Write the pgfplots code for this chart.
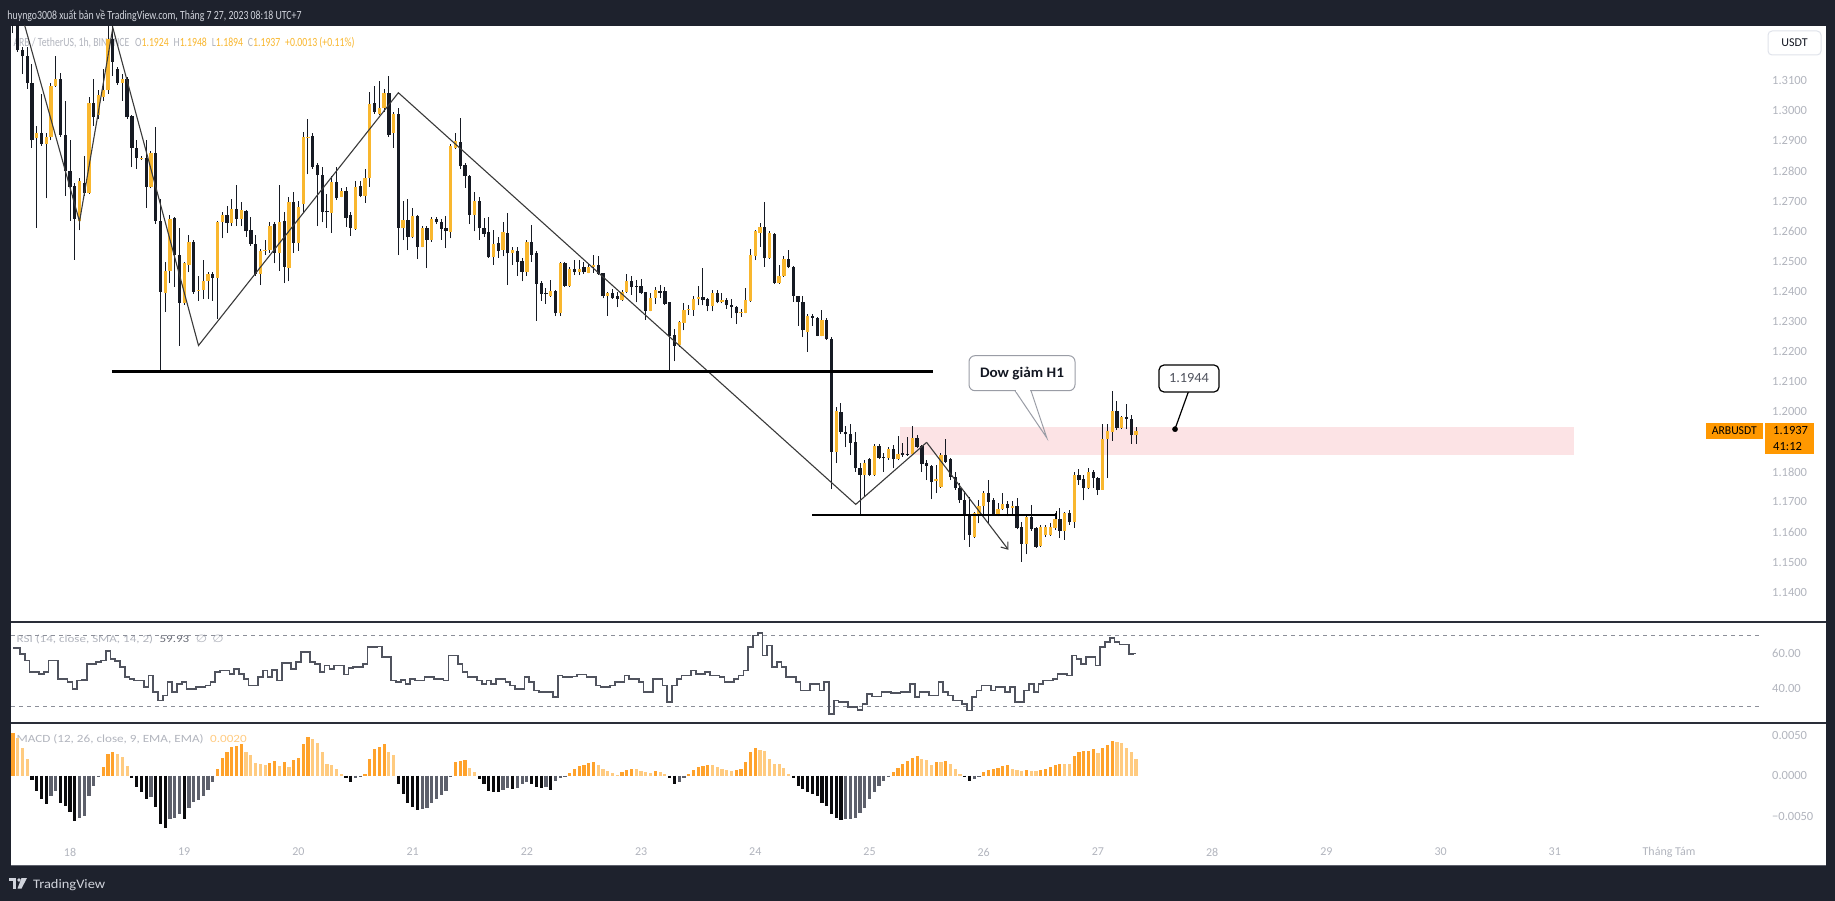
\documentclass[border=0pt]{standalone}
\usepackage{graphicx}
\usepackage{fontspec}
\usepackage{pgfplots}
\pgfplotsset{compat=1.18}
\usepackage{pgfplotstable}
\usetikzlibrary{arrows.meta}
\setmainfont{Carlito}
\newfontfamily\symfont{DejaVu Sans}
\newcommand{\fw}[2]{\resizebox{#1pt}{\height}{#2}}

\definecolor{tvdark}{HTML}{1E222D}
\definecolor{hdrtxt}{HTML}{D1D4DC}
\definecolor{lblgray}{HTML}{B2B5BE}
\definecolor{upc}{HTML}{F9B72E}
\definecolor{dnc}{HTML}{161A23}
\definecolor{trend}{HTML}{3A3A3A}
\definecolor{pinkz}{HTML}{FCE3E5}
\definecolor{rsic}{HTML}{50535E}
\definecolor{dashc}{HTML}{8C8F99}
\definecolor{m1}{HTML}{FFA22B}
\definecolor{m2}{HTML}{FFCB80}
\definecolor{m3}{HTML}{0A0A0C}
\definecolor{m4}{HTML}{5D606B}
\definecolor{tvorange}{HTML}{FF9800}
\definecolor{sepc}{HTML}{2A2E39}
\definecolor{callgray}{HTML}{9A9DA6}
\definecolor{boxgray}{HTML}{E0E3EB}
\definecolor{rsival}{HTML}{6A6D78}
\definecolor{txtdark}{HTML}{131722}

\pgfplotstableread{
i o h l c
-12 1.3330 1.3350 1.3258 1.3300
-11 1.3290 1.3320 1.3195 1.3201
-10 1.3201 1.3211 1.3122 1.3181
-9 1.3181 1.3211 1.3074 1.3092
-8 1.3094 1.3157 1.2878 1.2902
-7 1.2908 1.2950 1.2611 1.2926
-6 1.2926 1.3056 1.2884 1.2890
-5 1.2890 1.2926 1.2709 1.2912
-4 1.2912 1.3092 1.2902 1.3084
-3 1.3084 1.3181 1.3080 1.3106
-2 1.3106 1.3124 1.2914 1.2920
-1 1.2920 1.3033 1.2718 1.2801
0 1.2801 1.2902 1.2635 1.2748
1 1.2750 1.2760 1.2505 1.2641
2 1.2635 1.2778 1.2603 1.2768
3 1.2760 1.2849 1.2718 1.2727
4 1.2728 1.3045 1.2724 1.3027
5 1.3027 1.3104 1.2950 1.2979
6 1.2985 1.3068 1.2973 1.3051
7 1.3045 1.3140 1.3033 1.3068
8 1.3068 1.3282 1.3056 1.3240
9 1.3240 1.3290 1.3116 1.3163
10 1.3140 1.3146 1.3086 1.3092
11 1.3094 1.3122 1.3033 1.3104
12 1.3107 1.3113 1.2973 1.2979
13 1.2983 1.2985 1.2813 1.2878
14 1.2876 1.2902 1.2807 1.2843
15 1.2839 1.2849 1.2837 1.2843
16 1.2843 1.2902 1.2677 1.2748
17 1.2748 1.2867 1.2742 1.2861
18 1.2861 1.2946 1.2623 1.2635
19 1.2635 1.2706 1.2133 1.2398
20 1.2395 1.2499 1.2332 1.2467
21 1.2467 1.2653 1.2427 1.2641
22 1.2643 1.2647 1.2415 1.2522
23 1.2522 1.2611 1.2220 1.2362
24 1.2362 1.2499 1.2356 1.2493
25 1.2487 1.2588 1.2463 1.2564
26 1.2564 1.2570 1.2392 1.2398
27 1.2402 1.2451 1.2368 1.2406
28 1.2406 1.2505 1.2374 1.2436
29 1.2436 1.2463 1.2374 1.2459
30 1.2459 1.2463 1.2368 1.2445
31 1.2445 1.2635 1.2309 1.2632
32 1.2632 1.2665 1.2576 1.2653
33 1.2653 1.2683 1.2594 1.2627
34 1.2627 1.2706 1.2617 1.2673
35 1.2673 1.2754 1.2617 1.2641
36 1.2641 1.2697 1.2617 1.2671
37 1.2667 1.2671 1.2582 1.2599
38 1.2603 1.2647 1.2552 1.2558
39 1.2558 1.2588 1.2451 1.2457
40 1.2457 1.2540 1.2421 1.2534
41 1.2534 1.2572 1.2522 1.2537
42 1.2537 1.2629 1.2528 1.2617
43 1.2623 1.2632 1.2493 1.2528
44 1.2526 1.2754 1.2469 1.2632
45 1.2635 1.2665 1.2427 1.2481
46 1.2478 1.2712 1.2433 1.2697
47 1.2697 1.2730 1.2528 1.2560
48 1.2560 1.2700 1.2535 1.2680
49 1.2690 1.2928 1.2665 1.2914
50 1.2910 1.2973 1.2789 1.2914
51 1.2916 1.2926 1.2807 1.2813
52 1.2819 1.2825 1.2617 1.2786
53 1.2786 1.2813 1.2629 1.2665
54 1.2667 1.2724 1.2611 1.2662
55 1.2661 1.2783 1.2594 1.2763
56 1.2763 1.2813 1.2704 1.2709
57 1.2715 1.2742 1.2712 1.2734
58 1.2734 1.2748 1.2614 1.2645
59 1.2653 1.2665 1.2585 1.2611
60 1.2608 1.2766 1.2605 1.2748
61 1.2750 1.2766 1.2712 1.2718
62 1.2718 1.2807 1.2694 1.2778
63 1.2778 1.3062 1.2748 1.3024
64 1.3027 1.3083 1.2991 1.2997
65 1.2991 1.3098 1.2985 1.3009
66 1.3009 1.3074 1.2997 1.3059
67 1.3059 1.3116 1.2914 1.2920
68 1.2926 1.2997 1.2878 1.2988
69 1.2988 1.3009 1.2520 1.2611
70 1.2609 1.2700 1.2570 1.2637
71 1.2637 1.2706 1.2537 1.2582
72 1.2582 1.2677 1.2576 1.2651
73 1.2651 1.2653 1.2507 1.2549
74 1.2549 1.2617 1.2546 1.2611
75 1.2611 1.2617 1.2477 1.2572
76 1.2570 1.2647 1.2564 1.2641
77 1.2641 1.2647 1.2623 1.2629
78 1.2632 1.2641 1.2572 1.2608
79 1.2611 1.2651 1.2544 1.2599
80 1.2597 1.2890 1.2576 1.2884
81 1.2878 1.2926 1.2872 1.2899
82 1.2896 1.2976 1.2807 1.2816
83 1.2819 1.2825 1.2744 1.2783
84 1.2783 1.2786 1.2623 1.2655
85 1.2655 1.2730 1.2599 1.2700
86 1.2700 1.2715 1.2572 1.2611
87 1.2611 1.2643 1.2582 1.2591
88 1.2597 1.2647 1.2511 1.2513
89 1.2513 1.2605 1.2489 1.2558
90 1.2560 1.2582 1.2511 1.2534
91 1.2538 1.2629 1.2516 1.2596
92 1.2594 1.2661 1.2422 1.2526
93 1.2526 1.2546 1.2489 1.2537
94 1.2534 1.2546 1.2451 1.2499
95 1.2501 1.2511 1.2433 1.2465
96 1.2465 1.2570 1.2451 1.2564
97 1.2564 1.2620 1.2499 1.2522
98 1.2526 1.2534 1.2303 1.2425
99 1.2427 1.2433 1.2368 1.2392
100 1.2396 1.2410 1.2359 1.2392
101 1.2386 1.2437 1.2382 1.2401
102 1.2401 1.2406 1.2318 1.2327
103 1.2327 1.2499 1.2318 1.2493
104 1.2493 1.2499 1.2415 1.2419
105 1.2419 1.2481 1.2415 1.2475
106 1.2475 1.2505 1.2454 1.2465
107 1.2465 1.2505 1.2454 1.2473
108 1.2480 1.2499 1.2457 1.2463
109 1.2462 1.2490 1.2460 1.2482
110 1.2480 1.2521 1.2462 1.2488
111 1.2488 1.2518 1.2455 1.2458
112 1.2460 1.2462 1.2377 1.2383
113 1.2383 1.2399 1.2319 1.2396
114 1.2396 1.2407 1.2375 1.2377
115 1.2383 1.2399 1.2347 1.2374
116 1.2371 1.2405 1.2369 1.2399
117 1.2399 1.2458 1.2396 1.2435
118 1.2435 1.2451 1.2388 1.2416
119 1.2417 1.2438 1.2363 1.2415
120 1.2418 1.2440 1.2391 1.2396
121 1.2398 1.2398 1.2305 1.2335
122 1.2335 1.2394 1.2333 1.2378
123 1.2378 1.2416 1.2358 1.2405
124 1.2401 1.2421 1.2377 1.2396
125 1.2401 1.2416 1.2355 1.2358
126 1.2365 1.2366 1.2139 1.2252
127 1.2255 1.2275 1.2167 1.2220
128 1.2222 1.2303 1.2216 1.2299
129 1.2296 1.2360 1.2270 1.2338
130 1.2337 1.2355 1.2322 1.2339
131 1.2338 1.2386 1.2319 1.2375
132 1.2375 1.2418 1.2353 1.2380
133 1.2380 1.2479 1.2353 1.2371
134 1.2374 1.2377 1.2333 1.2352
135 1.2352 1.2405 1.2333 1.2394
136 1.2396 1.2405 1.2360 1.2363
137 1.2363 1.2396 1.2360 1.2371
138 1.2371 1.2377 1.2342 1.2353
139 1.2355 1.2375 1.2311 1.2349
140 1.2349 1.2352 1.2291 1.2327
141 1.2327 1.2342 1.2316 1.2330
142 1.2329 1.2410 1.2327 1.2371
143 1.2368 1.2541 1.2366 1.2521
144 1.2519 1.2604 1.2504 1.2599
145 1.2595 1.2626 1.2549 1.2613
146 1.2613 1.2698 1.2482 1.2510
147 1.2510 1.2599 1.2507 1.2593
148 1.2591 1.2593 1.2424 1.2429
149 1.2427 1.2488 1.2425 1.2452
150 1.2452 1.2518 1.2449 1.2508
151 1.2508 1.2538 1.2477 1.2480
152 1.2482 1.2485 1.2366 1.2386
153 1.2386 1.2386 1.2286 1.2364
154 1.2364 1.2383 1.2248 1.2270
155 1.2266 1.2325 1.2200 1.2319
156 1.2316 1.2325 1.2286 1.2313
157 1.2312 1.2316 1.2250 1.2253
158 1.2253 1.2338 1.2250 1.2305
159 1.2305 1.2311 1.2239 1.2241
160 1.2242 1.2247 1.1742 1.1867
161 1.1867 1.2014 1.1829 1.2003
162 1.1998 1.2028 1.1926 1.1934
163 1.1932 1.1951 1.1882 1.1925
164 1.1926 1.1958 1.1856 1.1897
165 1.1898 1.1934 1.1801 1.1812
166 1.1812 1.1829 1.1655 1.1790
167 1.1788 1.1840 1.1718 1.1829
168 1.1842 1.1845 1.1787 1.1790
169 1.1790 1.1892 1.1787 1.1887
170 1.1887 1.1893 1.1842 1.1845
171 1.1850 1.1862 1.1801 1.1846
172 1.1845 1.1882 1.1840 1.1876
173 1.1876 1.1890 1.1812 1.1842
174 1.1842 1.1920 1.1838 1.1860
175 1.1862 1.1895 1.1851 1.1856
176 1.1860 1.1917 1.1853 1.1856
177 1.1860 1.1951 1.1856 1.1912
178 1.1912 1.1921 1.1879 1.1884
179 1.1886 1.1890 1.1801 1.1826
180 1.1829 1.1840 1.1773 1.1820
181 1.1820 1.1823 1.1709 1.1768
182 1.1771 1.1823 1.1729 1.1775
183 1.1749 1.1862 1.1748 1.1856
184 1.1856 1.1908 1.1829 1.1834
185 1.1843 1.1845 1.1773 1.1784
186 1.1784 1.1801 1.1740 1.1746
187 1.1748 1.1762 1.1698 1.1705
188 1.1707 1.1738 1.1574 1.1657
189 1.1660 1.1718 1.1552 1.1591
190 1.1585 1.1668 1.1580 1.1663
191 1.1660 1.1707 1.1629 1.1687
192 1.1685 1.1735 1.1657 1.1729
193 1.1731 1.1773 1.1629 1.1701
194 1.1707 1.1712 1.1654 1.1657
195 1.1657 1.1698 1.1652 1.1676
196 1.1676 1.1729 1.1673 1.1694
197 1.1694 1.1702 1.1652 1.1679
198 1.1679 1.1702 1.1657 1.1687
199 1.1687 1.1712 1.1609 1.1613
200 1.1616 1.1632 1.1502 1.1561
201 1.1561 1.1657 1.1526 1.1649
202 1.1649 1.1690 1.1604 1.1609
203 1.1613 1.1618 1.1548 1.1552
204 1.1554 1.1624 1.1552 1.1618
205 1.1590 1.1624 1.1585 1.1618
206 1.1590 1.1629 1.1587 1.1618
207 1.1613 1.1663 1.1607 1.1643
208 1.1643 1.1679 1.1580 1.1605
209 1.1605 1.1668 1.1574 1.1663
210 1.1663 1.1674 1.1624 1.1632
211 1.1632 1.1801 1.1615 1.1790
212 1.1790 1.1809 1.1757 1.1773
213 1.1775 1.1790 1.1705 1.1746
214 1.1746 1.1812 1.1742 1.1801
215 1.1801 1.1807 1.1746 1.1779
216 1.1779 1.1784 1.1723 1.1740
217 1.1740 1.1958 1.1740 1.1908
218 1.1908 1.1958 1.1779 1.1936
219 1.1934 1.2070 1.1904 1.2003
220 1.2003 1.2034 1.1939 1.1947
221 1.1947 1.1986 1.1942 1.1982
222 1.1984 1.2026 1.1942 1.1975
223 1.1975 1.1989 1.1893 1.1921
224 1.1924 1.1948 1.1894 1.1937
}\candles

\pgfplotstableread{
i v
-12 63.1
-11 63.1
-10 59.7
-9 55.9
-8 49.3
-7 49.3
-6 48.4
-5 49.3
-4 55.9
-3 55.9
-2 45.6
-1 45.6
0 43.7
1 40.0
2 44.6
3 45.0
4 54.0
5 54.0
6 55.0
7 55.9
8 61.2
9 56.9
10 55.5
11 52.2
12 46.5
13 45.6
14 44.6
15 44.6
16 40.9
17 47.5
18 38.1
19 33.4
20 36.2
21 43.7
22 38.1
23 42.8
24 43.7
25 40.0
26 40.0
27 40.9
28 40.9
29 41.8
30 43.7
31 49.3
32 50.3
33 50.3
34 48.4
35 51.2
36 48.4
37 45.6
38 41.8
39 41.8
40 46.5
41 50.3
42 46.5
43 50.7
44 44.6
45 54.4
46 54.4
47 51.2
48 55.0
49 60.6
50 60.6
51 55.0
52 54.0
53 49.3
54 53.1
55 51.2
56 53.1
57 53.1
58 48.0
59 51.6
60 52.2
61 52.2
62 54.0
63 63.4
64 63.4
65 63.8
66 57.8
67 57.8
68 44.6
69 43.7
70 45.0
71 42.8
72 45.6
73 44.6
74 44.6
75 46.5
76 46.5
77 45.6
78 45.6
79 44.6
80 58.7
81 58.7
82 54.0
83 49.3
84 46.5
85 46.5
86 44.6
87 42.8
88 44.6
89 42.8
90 45.6
91 45.6
92 43.7
93 41.8
94 40.0
95 40.0
96 46.5
97 43.7
98 39.0
99 38.1
100 38.1
101 38.1
102 35.3
103 47.5
104 46.5
105 46.5
106 46.9
107 48.0
108 48.0
109 46.5
110 46.5
111 41.8
112 40.9
113 40.9
114 41.8
115 43.7
116 43.7
117 47.5
118 45.6
119 45.6
120 43.7
121 38.1
122 38.1
123 45.6
124 45.6
125 41.8
126 32.4
127 41.8
128 45.6
129 47.5
130 47.5
131 50.3
132 48.4
133 48.4
134 49.3
135 47.5
136 47.5
137 46.5
138 43.7
139 43.7
140 45.6
141 47.5
142 50.3
143 63.4
144 70.0
145 71.5
146 58.7
147 64.4
148 52.2
149 55.0
150 52.2
151 46.5
152 46.5
153 43.7
154 39.0
155 39.0
156 42.8
157 42.8
158 39.0
159 43.7
160 25.9
161 33.4
162 32.4
163 32.4
164 29.6
165 29.6
166 28.1
167 31.5
168 37.1
169 35.6
170 35.6
171 38.1
172 38.1
173 37.5
174 37.5
175 38.1
176 38.1
177 42.8
178 35.3
179 38.1
180 38.1
181 36.2
182 36.2
183 43.7
184 38.1
185 36.2
186 33.4
187 33.4
188 31.5
189 27.7
190 35.3
191 39.0
192 41.8
193 41.8
194 39.0
195 40.9
196 40.9
197 38.1
198 40.9
199 32.4
200 32.4
201 39.0
202 42.8
203 38.1
204 42.8
205 44.6
206 44.6
207 45.6
208 48.4
209 48.4
210 47.5
211 58.7
212 56.9
213 54.0
214 57.8
215 57.8
216 53.1
217 63.4
218 66.2
219 68.7
220 66.2
221 64.9
222 64.9
223 59.7
224 59.93
}\rsi

\pgfplotstableread{
i m k
-12 0.00521 1
-11 0.00459 2
-10 0.00334 2
-9 0.00200 2
-8 -0.00050 3
-7 -0.00188 3
-6 -0.00292 3
-5 -0.00354 3
-4 -0.00250 4
-3 -0.00188 4
-2 -0.00334 3
-1 -0.00375 3
0 -0.00450 3
1 -0.00563 3
2 -0.00521 4
3 -0.00500 4
4 -0.00259 4
5 -0.00125 4
6 -0.00008 4
7 0.00104 1
8 0.00271 1
9 0.00292 1
10 0.00271 2
11 0.00229 2
12 0.00117 2
13 -0.00025 3
14 -0.00146 3
15 -0.00209 3
16 -0.00292 3
17 -0.00271 4
18 -0.00384 3
19 -0.00596 3
20 -0.00646 3
21 -0.00542 4
22 -0.00521 4
23 -0.00479 4
24 -0.00542 3
25 -0.00396 4
26 -0.00325 4
27 -0.00300 4
28 -0.00250 4
29 -0.00179 4
30 -0.00083 4
31 0.00083 1
32 0.00217 1
33 0.00292 1
34 0.00354 1
35 0.00363 1
36 0.00384 1
37 0.00292 2
38 0.00259 2
39 0.00154 2
40 0.00146 2
41 0.00133 2
42 0.00158 1
43 0.00175 1
44 0.00117 2
45 0.00167 1
46 0.00104 2
47 0.00188 1
48 0.00217 1
49 0.00384 1
50 0.00479 1
51 0.00450 2
52 0.00396 2
53 0.00292 2
54 0.00146 2
55 0.00125 2
56 0.00083 2
57 0.00021 2
58 -0.00033 3
59 -0.00083 3
60 -0.00033 4
61 -0.00008 4
62 0.00021 1
63 0.00209 1
64 0.00325 1
65 0.00354 1
66 0.00384 1
67 0.00292 2
68 0.00259 2
69 -0.00104 3
70 -0.00229 3
71 -0.00334 3
72 -0.00384 3
73 -0.00425 3
74 -0.00409 4
75 -0.00396 4
76 -0.00334 4
77 -0.00284 4
78 -0.00242 4
79 -0.00188 4
80 -0.00008 4
81 0.00167 1
82 0.00175 1
83 0.00188 1
84 0.00092 2
85 0.00042 2
86 -0.00042 3
87 -0.00104 3
88 -0.00188 3
89 -0.00200 3
90 -0.00209 3
91 -0.00175 4
92 -0.00158 4
93 -0.00167 3
94 -0.00158 4
95 -0.00104 4
96 -0.00083 4
97 -0.00104 3
98 -0.00146 3
99 -0.00158 3
100 -0.00146 4
101 -0.00175 3
102 -0.00063 4
103 -0.00033 4
104 -0.00004 4
105 0.00033 1
106 0.00083 1
107 0.00117 1
108 0.00133 1
109 0.00158 1
110 0.00167 1
111 0.00125 2
112 0.00075 2
113 0.00050 2
114 0.00033 2
115 0.00008 2
116 0.00042 1
117 0.00063 1
118 0.00083 1
119 0.00080 2
120 0.00050 2
121 0.00042 2
122 0.00033 2
123 0.00050 1
124 0.00042 2
125 0.00021 2
126 -0.00033 3
127 -0.00104 3
128 -0.00083 4
129 -0.00033 4
130 0.00021 1
131 0.00063 1
132 0.00104 1
133 0.00117 1
134 0.00133 1
135 0.00125 2
136 0.00104 2
137 0.00083 2
138 0.00063 2
139 0.00050 2
140 0.00063 1
141 0.00075 1
142 0.00167 1
143 0.00292 1
144 0.00342 1
145 0.00313 2
146 0.00300 2
147 0.00200 2
148 0.00146 2
149 0.00146 2
150 0.00092 2
151 0.00021 2
152 -0.00033 3
153 -0.00125 3
154 -0.00167 3
155 -0.00200 3
156 -0.00229 3
157 -0.00259 3
158 -0.00334 3
159 -0.00375 3
160 -0.00479 3
161 -0.00521 3
162 -0.00550 3
163 -0.00534 4
164 -0.00534 4
165 -0.00521 4
166 -0.00459 4
167 -0.00396 4
168 -0.00292 4
169 -0.00209 4
170 -0.00125 4
171 -0.00063 4
172 -0.00021 4
173 0.00042 1
174 0.00092 1
175 0.00146 1
176 0.00175 1
177 0.00217 1
178 0.00242 1
179 0.00209 2
180 0.00188 2
181 0.00133 2
182 0.00167 1
183 0.00165 2
184 0.00175 1
185 0.00146 2
186 0.00083 2
187 0.00021 2
188 -0.00008 3
189 -0.00063 3
190 -0.00042 4
191 -0.00008 4
192 0.00042 1
193 0.00063 1
194 0.00075 1
195 0.00092 1
196 0.00117 1
197 0.00125 1
198 0.00083 2
199 0.00063 2
200 0.00050 2
201 0.00063 1
202 0.00060 2
203 0.00050 2
204 0.00063 1
205 0.00083 1
206 0.00104 1
207 0.00125 1
208 0.00146 1
209 0.00144 2
210 0.00140 2
211 0.00242 1
212 0.00292 1
213 0.00300 1
214 0.00304 1
215 0.00325 1
216 0.00284 2
217 0.00334 1
218 0.00375 1
219 0.00425 1
220 0.00409 2
221 0.00396 2
222 0.00342 2
223 0.00292 2
224 0.00209 2
}\macd

\pgfplotsset{tvpane/.style={scale only axis, anchor=south west, width=1752pt,
  xmin=-12.40, xmax=355.75, axis line style={draw=none}, major tick length=0pt,
  scaled x ticks=false, scaled y ticks=false,
  yticklabel pos=right,
  yticklabel style={anchor=west, xshift=9pt, inner sep=0pt, text=lblgray, font=\fontsize{12.5}{14}\selectfont},
  xticklabel style={anchor=center, yshift=13pt, inner sep=0pt, text=lblgray, font=\fontsize{12}{14}\selectfont},
  clip=true}}

\begin{document}
\begin{tikzpicture}
\begin{scope}[x=1pt,y=-1pt]
\fill[tvdark] (0,0) rectangle (1835,901);
\fill[white] (11,26) rectangle (1826,865);
\draw[sepc, line width=1.5pt] (11,622) -- (1826,622);
\draw[sepc, line width=1.5pt] (11,723) -- (1826,723);
\draw[m4, line width=1pt] (11,865) -- (1826,865);
\node[anchor=base west, inner sep=0, text=hdrtxt, font=\fontsize{12.5}{15}\selectfont] at (7.3,19.5) {\fw{294}{huyngo3008 xuất bản về TradingView.com, Tháng 7 27, 2023 08:18 UTC+7}};
\node[anchor=base west, inner sep=0, text=lblgray, font=\fontsize{12.5}{15}\selectfont] at (13.3,46.7) {\fw{341}{ARB / TetherUS, 1h, BINANCE\hspace{0.6em}O\textcolor{upc}{1.1924}\hspace{0.5em}H\textcolor{upc}{1.1948}\hspace{0.5em}L\textcolor{upc}{1.1894}\hspace{0.5em}C\textcolor{upc}{1.1937}\hspace{0.5em}\textcolor{upc}{+0.0013 (+0.11\%)}}};
\node[anchor=base west, inner sep=0, text=lblgray, font=\fontsize{10.5}{12}\selectfont] at (16.5,642) {\fw{207}{RSI (14, close, SMA, 14, 2)\hspace{0.5em}\textcolor{rsival}{59.93}\hspace{0.5em}{\symfont ∅}\hspace{0.4em}{\symfont ∅}}};
\node[anchor=base west, inner sep=0, text=lblgray, font=\fontsize{11}{13}\selectfont] at (16.5,742.5) {\fw{230}{MACD (12, 26, close, 9, EMA, EMA)\hspace{0.5em}\textcolor{m2}{0.0020}}};
\end{scope}

% ---------------- main price pane
\begin{axis}[tvpane, at={(11pt,-622pt)}, height=596pt,
  ymin=1.13011, ymax=1.32818, xtick=\empty,
  ytick={1.14,1.15,1.16,1.17,1.18,1.20,1.21,1.22,1.23,1.24,1.25,1.26,1.27,1.28,1.29,1.30,1.31},
  yticklabel={\pgfmathprintnumber[fixed,fixed zerofill,precision=4,assume math mode=true]{\tick}}]
\addplot[fill=pinkz, draw=none] coordinates {(174.4,1.1857) (316,1.1857) (316,1.1950) (174.4,1.1950)};
\addplot[quiver={u=0, v={\thisrow{h}-\thisrow{l}}}, draw=dnc, line width=1pt] table[x=i, y=l] {\candles};
\addplot[quiver={u=0, v={max(abs(\thisrow{c}-\thisrow{o}),0.0004)}}, draw=upc, line width=3.3pt,
  restrict expr to domain={\thisrow{c}-\thisrow{o}}{0:1}]
  table[x=i, y expr={min(\thisrow{o},\thisrow{c})}] {\candles};
\addplot[quiver={u=0, v={max(abs(\thisrow{c}-\thisrow{o}),0.0004)}}, draw=dnc, line width=3.3pt,
  restrict expr to domain={\thisrow{c}-\thisrow{o}}{-1:-0.00000001}]
  table[x=i, y expr={min(\thisrow{o},\thisrow{c})}] {\candles};
\addplot[trend, line width=1.1pt] coordinates {(-10.5,1.3339) (2.0,1.2632) (9.0,1.3276) (27.0,1.2220) (69.0,1.3060) (165.1,1.1692) (180.0,1.1898)};
\addplot[trend, line width=1.1pt, -{Straight Barb[length=6pt,width=9pt]}] coordinates {(180.0,1.1898) (197.2,1.1541)};
\addplot[black, line width=2.6pt] coordinates {(8.8,1.2133) (181.3,1.2133)};
\addplot[black, line width=2.6pt] coordinates {(156.0,1.1657) (207.2,1.1657)};
\addplot[black, line width=1pt] coordinates {(207.2,1.1669) (207.2,1.1645)};
\addplot[only marks, mark=*, mark size=2.6pt, black] coordinates {(232.2,1.1942)};
\end{axis}

% ---------------- RSI pane
\begin{axis}[tvpane, at={(11pt,-723pt)}, height=101pt,
  ymin=20.7, ymax=77.6, xtick=\empty, ytick={40,60},
  yticklabel={\pgfmathprintnumber[fixed,fixed zerofill,precision=2,assume math mode=true]{\tick}}]
\addplot[dashc, line width=1pt, dash pattern=on 4pt off 4pt] coordinates {(-12.4,70) (355.75,70)};
\addplot[dashc, line width=1pt, dash pattern=on 4pt off 4pt] coordinates {(-12.4,30) (355.75,30)};
\addplot[const plot mark mid, rsic, line width=1.7pt] table[x=i, y=v] {\rsi};
\end{axis}

% ---------------- MACD pane
\begin{axis}[tvpane, at={(11pt,-865pt)}, height=142pt,
  ymin=-0.011049, ymax=0.006481,
  ytick={-0.005,0,0.005}, yticklabels={−0.0050,0.0000,0.0050},
  xtick={0,24,48,72,96,120,144,168,192,216,240,264,288,312,336},
  xticklabels={18,19,20,21,22,23,24,25,26,27,28,29,30,31,Tháng Tám}]
\addplot[quiver={u=0, v={\thisrow{m}}}, draw=m1, line width=3.2pt, restrict expr to domain={\thisrow{k}}{0.5:1.5}] table[x=i, y expr=0] {\macd};
\addplot[quiver={u=0, v={\thisrow{m}}}, draw=m2, line width=3.2pt, restrict expr to domain={\thisrow{k}}{1.5:2.5}] table[x=i, y expr=0] {\macd};
\addplot[quiver={u=0, v={\thisrow{m}}}, draw=m3, line width=3.2pt, restrict expr to domain={\thisrow{k}}{2.5:3.5}] table[x=i, y expr=0] {\macd};
\addplot[quiver={u=0, v={\thisrow{m}}}, draw=m4, line width=3.2pt, restrict expr to domain={\thisrow{k}}{3.5:4.5}] table[x=i, y expr=0] {\macd};
\end{axis}

\begin{scope}[x=1pt,y=-1pt]
% Dow callout
\filldraw[fill=white, draw=callgray, line width=1pt, rounded corners=6pt] (969,355.7) rectangle (1075,390.7);
\draw[callgray, line width=1pt] (1015,390.7) -- (1046.7,437.7) -- (1031,390.7);
\draw[white, line width=1.6pt] (1015.8,390.7) -- (1030.2,390.7);
\node[inner sep=0, text=txtdark, font=\bfseries\fontsize{14.5}{16}\selectfont] at (1022,373.2) {\fw{84}{Dow giảm H1}};
% value callout
\draw[black, line width=1.2pt] (1188.3,392) -- (1175,429);
\filldraw[fill=white, draw=black, line width=1.2pt, rounded corners=5pt] (1159,365) rectangle (1219,392);
\node[inner sep=0, text=rsic, font=\fontsize{14}{16}\selectfont] at (1189,378.5) {\fw{40}{1.1944}};
% price scale badges
\fill[tvorange] (1706,423) rectangle (1762.5,439);
\node[inner sep=0, text=black, font=\fontsize{12}{14}\selectfont] at (1734.3,431) {\fw{45}{ARBUSDT}};
\fill[tvorange] (1765,423) rectangle (1814,453.5);
\node[anchor=west, inner sep=0, text=black, font=\fontsize{12.5}{14}\selectfont] at (1773,430.7) {1.1937};
\node[anchor=west, inner sep=0, text=black, font=\fontsize{12.5}{14}\selectfont] at (1773,446) {41:12};
\filldraw[fill=white, draw=boxgray, line width=1pt, rounded corners=4pt] (1768,31) rectangle (1821,55);
\node[inner sep=0, text=txtdark, font=\fontsize{12}{14}\selectfont] at (1794.5,43) {USDT};
% footer logo
\fill[hdrtxt] (9,878) rectangle (16,881);
\fill[hdrtxt] (12.5,878) rectangle (16,888.5);
\fill[hdrtxt] (19,880) circle (1.8);
\fill[hdrtxt] (21.5,878) -- (27,878) -- (21.5,888.5) -- (17.5,888.5) -- cycle;
\node[anchor=base west, inner sep=0, text=hdrtxt, font=\fontsize{13}{15}\selectfont] at (33,888.5) {\fw{72}{TradingView}};
\end{scope}
\pgfresetboundingbox
\useasboundingbox (0,0) rectangle (1835pt,-901pt);
\end{tikzpicture}
\end{document}
